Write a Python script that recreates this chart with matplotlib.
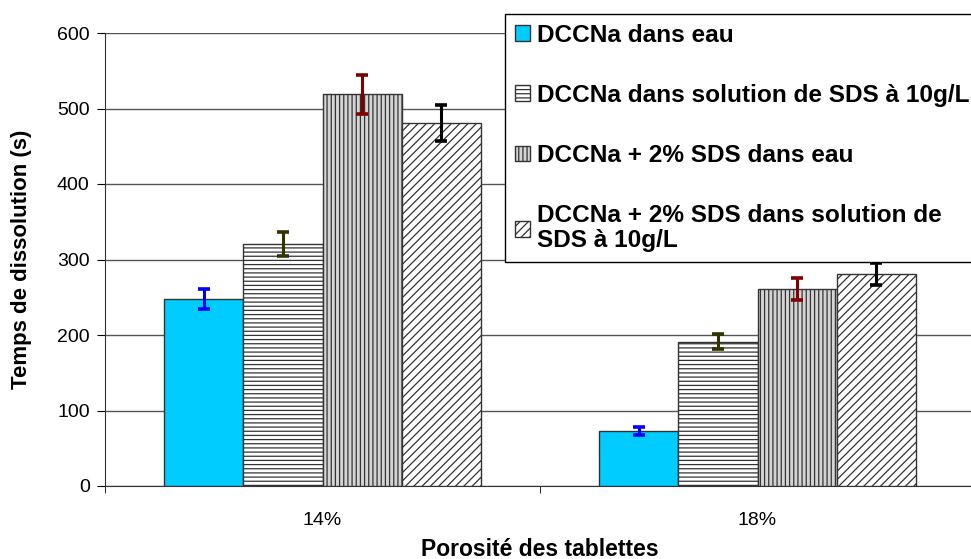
import matplotlib
matplotlib.use('Agg')
import matplotlib.pyplot as plt
import numpy as np

## Données
categories = ['14%', '18%']
series = ['DCCNa dans eau',
          'DCCNa dans solution de SDS à 10g/L',
          'DCCNa + 2% SDS dans eau',
          'DCCNa + 2% SDS dans solution de\nSDS à 10g/L']
valeurs = [[248, 73],
           [321, 191],
           [519, 261],
           [481, 281]]
erreurs = [[13, 5],
           [16, 10],
           [26, 15],
           [24, 15]]

faces = ['#00CCFF', 'white', '#d4d4d4', 'white']
hatches = [None, '----', '||||', '////']
err_colors = ['#0000FF', '#333300', '#800000', 'black']

plt.rcParams['font.family'] = ['Liberation Sans', 'DejaVu Sans']
plt.rcParams['hatch.linewidth'] = 0.9
plt.rcParams['hatch.color'] = '#333333'

fig = plt.figure(figsize=(9.71, 5.59), dpi=100)
ax = fig.add_axes([105/971, 1-486/559, 870/971, 453/559])

x = np.arange(len(categories))
w = 0.182
offsets = (np.arange(len(series)) - 1.5) * w

for i in range(len(series)):
    ax.bar(x + offsets[i], valeurs[i], w, color=faces[i], edgecolor='#333333',
           linewidth=1, hatch=hatches[i], label=series[i], zorder=3)
    ax.errorbar(x + offsets[i], valeurs[i], yerr=erreurs[i], fmt='none',
                ecolor=err_colors[i], elinewidth=2.2, capsize=4, capthick=2.6, zorder=4)

ax.set_xlim(-0.5, 1.5)
ax.set_ylim(0, 600)
ax.set_yticks(np.arange(0, 601, 100))
ax.set_xticks(x)
ax.set_xticklabels(categories)
ax.set_xticks([-0.5, 0.5, 1.5], minor=True)
ax.tick_params(axis='x', which='major', length=0, labelsize=14, pad=19)
ax.tick_params(axis='x', which='minor', length=5, direction='out')
ax.tick_params(axis='y', length=6, direction='out', labelsize=14, pad=5)

ax.yaxis.grid(True, color='#555555', linewidth=1, zorder=0)
ax.spines['top'].set_visible(False)
ax.spines['right'].set_visible(False)
ax.spines['left'].set_color('#333333')
ax.spines['bottom'].set_color('#333333')

ax.set_xlabel('Porosité des tablettes', fontsize=16.5, fontweight='bold', labelpad=6)
ax.set_ylabel('Temps de dissolution (s)', fontsize=16, fontweight='bold', labelpad=18)

leg = fig.legend(loc='upper left', bbox_to_anchor=(505/971, 1-14/559),
                 prop={'size': 17.6, 'weight': 'bold'}, frameon=True, fancybox=False,
                 edgecolor='black', framealpha=1, borderaxespad=0, borderpad=0.4,
                 handlelength=0.62, handleheight=0.62, handletextpad=0.3,
                 labelspacing=1.52)
leg.get_frame().set_linewidth(1)
for t in leg.get_texts():
    t.set_linespacing(1.12)

plt.savefig('out.png', dpi=100)
